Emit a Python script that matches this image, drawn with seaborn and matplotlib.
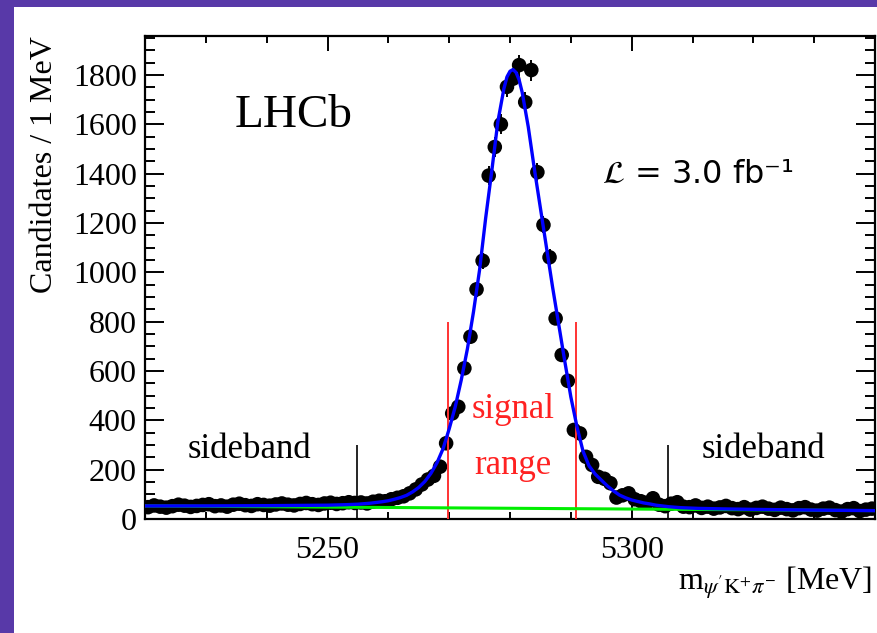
import numpy as np
import pandas as pd
import matplotlib
matplotlib.use("Agg")
import matplotlib.pyplot as plt
import seaborn as sns
from matplotlib.ticker import MultipleLocator
from matplotlib.patches import Rectangle

# ---------------- data ----------------
bin_centers = np.arange(5220.5, 5340.0, 1.0)          # 1 MeV bins, 5220-5340

counts_left = [48, 55, 50, 46, 52, 58, 54, 49, 53, 57, 60, 52, 55, 50, 58,
               62, 56, 53, 60, 57, 54, 59, 63, 58, 55, 61, 65, 60, 57, 63,
               66, 61, 64, 68, 65]                      # 5220.5 .. 5254.5
counts_peak = [67, 63, 70, 74, 72, 80, 86, 92, 104, 120,
               140, 160, 175, 212, 307, 428, 455, 611, 739, 931,
               1047, 1392, 1508, 1600, 1752, 1785, 1840, 1690, 1820, 1406,
               1192, 1061, 813, 665, 560, 361, 347, 252, 219, 171,
               163, 145, 87, 96, 104]                   # 5255.5 .. 5299.5
counts_right = [80, 72, 66, 84, 58, 52, 62, 68, 50, 48,
                55, 45, 50, 42, 47, 53, 44, 40, 48, 38,
                45, 50, 42, 37, 46, 40, 35, 44, 48, 38,
                34, 42, 46, 36, 30, 40, 44, 32, 38, 42]  # 5300.5 .. 5339.5
counts = np.array(counts_left + counts_peak + counts_right, dtype=float)

fit_x = [5220, 5230, 5240, 5245, 5250, 5253, 5255, 5257, 5259, 5260,
         5261, 5262, 5263, 5264, 5265, 5266, 5267, 5268, 5269, 5270,
         5271, 5272, 5273, 5274, 5275, 5276, 5277, 5278, 5279, 5279.5,
         5280, 5280.5, 5281, 5281.5, 5282, 5283, 5284, 5285, 5286, 5287,
         5288, 5289, 5290, 5291, 5292, 5293, 5294, 5295, 5296, 5297,
         5298, 5299, 5300, 5301, 5302, 5303, 5304, 5306, 5308, 5311,
         5315, 5320, 5330, 5340]
fit_y = [53, 53, 54, 55, 56, 58, 60, 64, 70, 74,
         80, 87, 96, 110, 128, 152, 185, 228, 285, 365,
         455, 565, 690, 840, 1010, 1220, 1410, 1610, 1745, 1792,
         1815, 1822, 1810, 1780, 1730, 1590, 1420, 1260, 1100, 940,
         790, 640, 495, 375, 275, 215, 182, 158, 134, 114,
         97, 86, 77, 71, 65, 61, 56, 50, 46, 43,
         41, 39, 36, 34]

bkg_x = [5220, 5340]
bkg_y = [53, 34]

signal_edges = [5269.8, 5290.9]
signal_top = 800
sideband_edges = [5254.9, 5305.9]
sideband_top = 300

x_major = [5250, 5300]

# ---------------- style ----------------
sns.set_theme(style="ticks")
plt.rcParams["font.family"] = ["Liberation Serif", "DejaVu Sans"]
plt.rcParams["mathtext.fontset"] = "stix"
plt.rcParams["text.color"] = "black"
plt.rcParams["axes.labelcolor"] = "black"
plt.rcParams["xtick.color"] = "black"
plt.rcParams["ytick.color"] = "black"

fig = plt.figure(figsize=(8.77, 6.33), dpi=100, facecolor="#5839A8")
fig.add_artist(Rectangle((14 / 877, 0), 1, 1 - 7 / 633,
                         transform=fig.transFigure, facecolor="white",
                         edgecolor="none", zorder=0))
ax = fig.add_axes([145 / 877, 1 - 519 / 633, 730 / 877, 483 / 633])
ax.set_facecolor("white")

df = pd.DataFrame({"mass": bin_centers, "count": counts})
ax.errorbar(df["mass"], df["count"], yerr=np.sqrt(df["count"]), fmt="none",
            ecolor="black", elinewidth=1.4, zorder=2)
sns.scatterplot(data=df, x="mass", y="count", ax=ax, color="black", s=110,
                edgecolor="none", linewidth=0, zorder=3, legend=False)

ax.vlines(signal_edges, 0, signal_top, color="#ff3333", lw=1.4, zorder=4)
ax.vlines(sideband_edges, 0, sideband_top, color="black", lw=1.2, zorder=4)

sns.lineplot(x=bkg_x, y=bkg_y, ax=ax, color="#00ee00", lw=2.2, zorder=5,
             estimator=None)
sns.lineplot(x=fit_x, y=fit_y, ax=ax, color="#0000ff", lw=2.4, zorder=6,
             estimator=None)

ax.set_xlim(5220, 5340)
ax.set_ylim(0, 1958)
ax.set_xticks(x_major)
ax.xaxis.set_minor_locator(MultipleLocator(10))
ax.yaxis.set_major_locator(MultipleLocator(200))
ax.yaxis.set_minor_locator(MultipleLocator(50))

for s in ax.spines.values():
    s.set_linewidth(1.6)
    s.set_color("black")
ax.tick_params(which="both", direction="in", top=True, right=True,
               width=1.4, colors="black", labelsize=23)
ax.tick_params(axis="x", which="major", length=11, pad=12)
ax.tick_params(axis="x", which="minor", length=5)
ax.tick_params(axis="y", which="major", length=14, pad=6)
ax.tick_params(axis="y", which="minor", length=7)

ax.set_ylabel("Candidates / 1 MeV", fontsize=23, rotation=90,
              ha="center", va="center", color="black")
ax.yaxis.set_label_coords(-0.138, 0.733)
ax.set_xlabel(r"m$_{\psi^{\prime}\mathrm{K}^{+}\pi^{-}}$ [MeV]",
              fontsize=23, ha="right", va="baseline", color="black")
ax.xaxis.set_label_coords(0.996, -0.147)

ax.text(5234.8, 1589, "LHCb", fontsize=34, ha="left", va="baseline",
        color="black")
ax.text(5295.1, 1362, r"$\mathcal{L}$ = 3.0 fb⁻¹", fontsize=23,
        ha="left", va="baseline", family=["DejaVu Sans"], color="black")
ax.text(5237.1, 247, "sideband", fontsize=25, ha="center", va="baseline",
        color="black")
ax.text(5321.6, 247, "sideband", fontsize=25, ha="center", va="baseline",
        color="black")
ax.text(5280.5, 408, "signal", fontsize=25, ha="center", va="baseline",
        color="#ff2222")
ax.text(5280.5, 182, "range", fontsize=25, ha="center", va="baseline",
        color="#ff2222")

fig.savefig("out.png", dpi=100, facecolor=fig.get_facecolor())
